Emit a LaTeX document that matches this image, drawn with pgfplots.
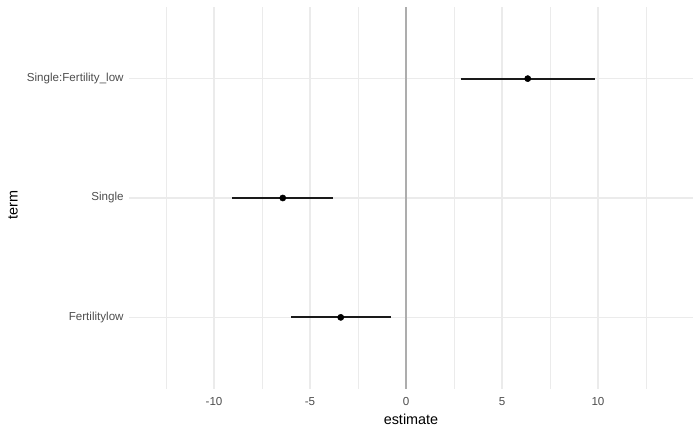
\documentclass[border=0pt]{standalone}
\usepackage{fontspec}
\setmainfont{Liberation Sans}
\usepackage{pgfplots}
\pgfplotsset{compat=1.18}
\definecolor{gridc}{HTML}{EBEBEB}
\definecolor{tickc}{HTML}{4D4D4D}
\definecolor{zeroc}{HTML}{ADADAD}
\definecolor{segc}{HTML}{1A1A1A}
\begin{document}
\begin{tikzpicture}
\useasboundingbox (0,0) rectangle (525pt,324pt);
\begin{axis}[
  at={(96.75pt,32.25pt)}, anchor=south west,
  scale only axis, width=423pt, height=286.5pt,
  xmin=-14.43, xmax=14.95, ymin=0.4, ymax=3.6,
  axis line style={draw=none}, tick style={draw=none},
  xtick={-10,-5,0,5,10},
  xticklabels={-10,-5,0,5,10},
  minor xtick={-12.5,-7.5,-2.5,2.5,7.5,12.5},
  ytick={1,2,3},
  yticklabels={Fertilitylow,Single,Single:Fertility\_low},
  xmajorgrids, xminorgrids, ymajorgrids,
  major grid style={gridc, line width=1pt},
  minor grid style={gridc, line width=0.7pt},
  ticklabel style={font=\fontsize{8.7}{10}\selectfont, text=tickc},
  xticklabel style={yshift=-2.5pt},
  yticklabel style={xshift=-0.5pt},
  xlabel={estimate},
  xlabel style={font=\fontsize{10.8}{12}\selectfont, text=black, yshift=0pt},
  clip=false,
]
\addplot[zeroc, line width=1.3pt, forget plot] coordinates {(0,0.4) (0,3.6)};
% Single:Fertility_low
\addplot[segc, line width=1.4pt, forget plot] coordinates {(2.86,3) (9.84,3)};
\addplot[only marks, mark=*, mark size=2.3pt, black, forget plot] coordinates {(6.34,3)};
% Single
\addplot[segc, line width=1.4pt, forget plot] coordinates {(-9.05,2) (-3.79,2)};
\addplot[only marks, mark=*, mark size=2.3pt, black, forget plot] coordinates {(-6.42,2)};
% Fertilitylow
\addplot[segc, line width=1.4pt, forget plot] coordinates {(-6.00,1) (-0.80,1)};
\addplot[only marks, mark=*, mark size=2.3pt, black, forget plot] coordinates {(-3.40,1)};
\end{axis}
\node[rotate=90, font=\fontsize{10.8}{12}\selectfont] at (9.75pt,170.25pt) {term};
\end{tikzpicture}
\end{document}
